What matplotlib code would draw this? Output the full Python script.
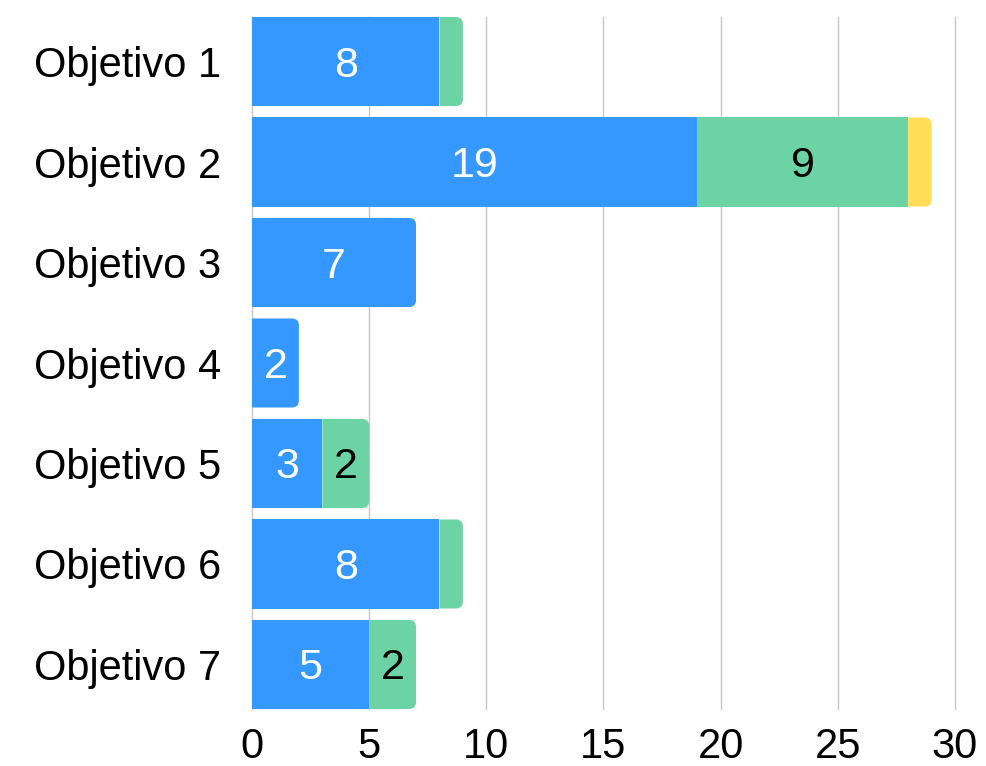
import matplotlib
matplotlib.use("Agg")
import matplotlib.pyplot as plt
from matplotlib.path import Path
from matplotlib.patches import PathPatch
import numpy as np

categories = ["Objetivo 1", "Objetivo 2", "Objetivo 3", "Objetivo 4",
              "Objetivo 5", "Objetivo 6", "Objetivo 7"]
serie_azul = [8, 19, 7, 2, 3, 8, 5]
serie_verde = [1, 9, 0, 0, 2, 1, 2]
serie_amarilla = [0, 1, 0, 0, 0, 0, 0]
xticks = [0, 5, 10, 15, 20, 25, 30]

colors = ["#3598FE", "#6CD4A4", "#FFDD57"]
text_colors = ["white", "black", "black"]
series = [serie_azul, serie_verde, serie_amarilla]

plt.rcParams['font.family'] = ['Liberation Sans', 'DejaVu Sans']

fig = plt.figure(figsize=(9.87, 7.66), dpi=100)
ax = fig.add_axes([252/987, 1-709/766, (955-252)/987, (709-17)/766])

y = np.arange(len(categories))
h = 0.886
left = np.zeros(len(categories))
all_bars = []
for vals, col in zip(series, colors):
    bars = ax.barh(y, vals, height=h, left=left, color=col, zorder=2, linewidth=0)
    all_bars.append(bars)
    left = left + np.array(vals)

ax.set_xlim(0, 30)
ax.set_ylim(len(categories) - 1 + h/2, -h/2)

# data-units per pixel
px_x = 30 / (955 - 252)
px_y = (len(categories) - 1 + h) / (709 - 17)
r = 7
rx, ry = r * px_x, r * px_y

def rounded_right(x0, y0, w, hh):
    x1, y1 = x0 + w, y0 + hh
    verts = [(x0, y0), (x1 - rx, y0), (x1, y0), (x1, y0 + ry),
             (x1, y1 - ry), (x1, y1), (x1 - rx, y1), (x0, y1), (x0, y0)]
    codes = [Path.MOVETO, Path.LINETO, Path.CURVE3, Path.CURVE3,
             Path.LINETO, Path.CURVE3, Path.CURVE3, Path.LINETO, Path.CLOSEPOLY]
    return Path(verts, codes)

for i in range(len(categories)):
    last = None
    for s, bars in enumerate(all_bars):
        if series[s][i] > 0:
            last = (s, bars[i])
    s, rect = last
    x0, y0 = rect.get_x(), rect.get_y()
    w, hh = rect.get_width(), rect.get_height()
    rect.set_visible(False)
    ax.add_patch(PathPatch(rounded_right(x0, y0, w, hh), facecolor=colors[s],
                           edgecolor='none', zorder=2))

# labels
for s, bars in enumerate(all_bars):
    for i, rect in enumerate(bars):
        v = series[s][i]
        if v >= 2:
            cx = rect.get_x() + rect.get_width() / 2
            ax.text(cx, y[i] + 4 * px_y, f"{v}", ha='center', va='center',
                    color=text_colors[s], fontsize=31, zorder=3)

ax.set_yticks(y)
ax.set_yticklabels(categories, fontsize=30)
ax.set_xticks(xticks)
ax.set_xticklabels([str(t) for t in xticks], fontsize=30)
ax.tick_params(axis='y', length=0, pad=22)
ax.tick_params(axis='x', length=0, pad=13)
for sp in ax.spines.values():
    sp.set_visible(False)
ax.xaxis.grid(True, color='#c8c8c8', linewidth=1, zorder=0)
for gl in ax.get_xgridlines():
    gl.set_clip_on(False)
ax.set_axisbelow(True)

fig.savefig("out.png", dpi=100)
